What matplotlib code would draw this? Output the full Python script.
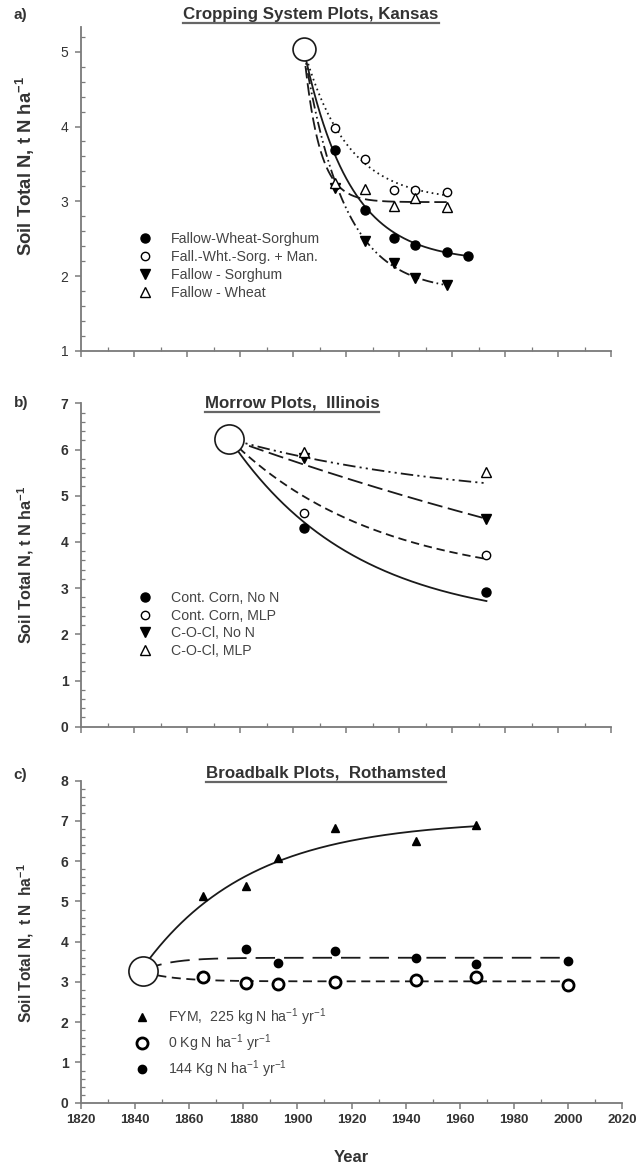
import numpy as np
import matplotlib
matplotlib.use("Agg")
import matplotlib.pyplot as plt
from matplotlib.ticker import MultipleLocator
from matplotlib.lines import Line2D

plt.rcParams['font.family'] = ['Liberation Sans', 'DejaVu Sans']
plt.rcParams['mathtext.fontset'] = 'custom'
plt.rcParams['mathtext.rm'] = 'Liberation Sans'
plt.rcParams['mathtext.it'] = 'Liberation Sans:italic'
plt.rcParams['mathtext.bf'] = 'Liberation Sans:bold'
plt.rcParams['lines.scale_dashes'] = False

# ---------------- data: panel a (Kansas) ----------------
a_start_year = 1904
a_start_n = 5.04
a_fws_years = [1916, 1927, 1938, 1946, 1958, 1966]
a_fws = [3.68, 2.89, 2.51, 2.42, 2.32, 2.27]
a_man_years = [1916, 1927, 1938, 1946, 1958]
a_man = [3.98, 3.56, 3.15, 3.15, 3.12]
a_fs_years = [1916, 1927, 1938, 1946, 1958]
a_fs = [3.18, 2.47, 2.17, 1.97, 1.88]
a_fw_years = [1916, 1927, 1938, 1946, 1958]
a_fw = [3.24, 3.16, 2.94, 3.04, 2.93]
a_labels = ['Fallow-Wheat-Sorghum', 'Fall.-Wht.-Sorg. + Man.', 'Fallow - Sorghum', 'Fallow - Wheat']
# fitted curves: (first year, anchor step, three anchor values, last year)
a_fit_fws = (1904, 31, [5.04, 2.66, 2.27], 1966)
a_fit_man = (1904, 27, [5.04, 3.40, 3.08], 1958)
a_fit_fs = (1904, 27, [5.04, 2.33, 1.88], 1958)
a_fit_fw = (1904, 27, [5.04, 3.01, 2.99], 1958)

# ---------------- data: panel b (Morrow) ----------------
b_start_year = 1876
b_start_n = 6.23
b_years = [1904, 1973]
b_cc_non = [4.31, 2.91]
b_cc_mlp = [4.62, 3.71]
b_coc_non = [5.81, 4.49]
b_coc_mlp = [5.95, 5.52]
b_labels = ['Cont. Corn, No N', 'Cont. Corn, MLP', 'C-O-Cl, No N', 'C-O-Cl, MLP']
b_fit_cc_non = (1876, 48.5, [6.23, 3.65, 2.72], 1973)
b_fit_cc_mlp = (1876, 48.5, [6.23, 4.40, 3.63], 1973)
b_fit_coc_non = (1876, 48.5, [6.23, 5.30, 4.50], 1973)
b_fit_coc_mlp = (1876, 48.5, [6.23, 5.62, 5.27], 1973)

# ---------------- data: panel c (Broadbalk) ----------------
c_start_year = 1843
c_start_n = 3.28
c_fym_years = [1865, 1881, 1893, 1914, 1944, 1966]
c_fym = [5.13, 5.38, 6.09, 6.82, 6.51, 6.89]
c_zero_years = [1865, 1881, 1893, 1914, 1944, 1966, 2000]
c_zero = [3.13, 2.98, 2.94, 3.00, 3.06, 3.13, 2.93]
c_n144_years = [1881, 1893, 1914, 1944, 1966, 2000]
c_n144 = [3.82, 3.47, 3.76, 3.60, 3.44, 3.52]
c_labels = [r'FYM,  225 kg N ha$^{-1}$ yr$^{-1}$', r'0 Kg N ha$^{-1}$ yr$^{-1}$',
            r'144 Kg N ha$^{-1}$ yr$^{-1}$']
c_fit_fym = (1845, 60.5, [3.55, 6.28, 6.87], 1966)
c_fit_n144 = (1843, 27, [3.28, 3.58, 3.60], 2000)
c_fit_zero = (1843, 22, [3.25, 3.05, 3.02], 2000)

x_ticks = list(range(1820, 2021, 20))


def fit_curve(spec):
    t0, dt, (y0, y1, y2), t_end = spec
    r = (y1 - y2) / (y0 - y1)
    k = -np.log(r) / dt
    b = (y0 - y1) / (1 - r)
    a = y0 - b
    t = np.linspace(t0, t_end, 300)
    return t, a + b * np.exp(-k * (t - t0))


W, H = 640, 1166
fig = plt.figure(figsize=(W / 100, H / 100), dpi=100)


def add_ax(left, right, top, bottom):
    return fig.add_axes([left / W, 1 - bottom / H, (right - left) / W, (bottom - top) / H])


ax_a = add_ax(81, 611, 27, 351)
ax_b = add_ax(81, 611, 403.3, 726.7)
ax_c = add_ax(81, 622, 780.7, 1102.7)

SP = '#7a7a7a'
TXT = '#333333'
LC = '#1a1a1a'
LW = 1.3


def style(ax, ylim, bold_ticks, show_x):
    ax.set_xlim(1820, 2020)
    ax.set_ylim(*ylim)
    for s in ['top', 'right']:
        ax.spines[s].set_visible(False)
    for s in ['left', 'bottom']:
        ax.spines[s].set_color(SP)
        ax.spines[s].set_linewidth(1.3)
    ax.set_xticks(x_ticks)
    ax.xaxis.set_minor_locator(MultipleLocator(10))
    ax.yaxis.set_major_locator(MultipleLocator(1))
    ax.yaxis.set_minor_locator(MultipleLocator(0.2))
    ax.tick_params(which='major', direction='out', length=4, width=1.1, color=SP,
                   labelcolor=TXT, labelsize=10, pad=4)
    ax.tick_params(which='minor', direction='in', length=3, width=0.9, color=SP)
    ax.tick_params(axis='y', which='major', pad=5)
    for lab in ax.get_yticklabels():
        lab.set_fontweight('bold' if bold_ticks else 'normal')
    if show_x:
        for lab in ax.get_xticklabels():
            lab.set_fontweight('bold')
            lab.set_fontsize(9.5)
    else:
        ax.tick_params(axis='x', labelbottom=False)


def big_circle(ax, x, y, size):
    ax.plot([x], [y], marker='o', ms=size, mfc='white', mec=LC, mew=1.2,
            linestyle='none', zorder=5, clip_on=False)


def curve(ax, spec, **kw):
    t, y = fit_curve(spec)
    ax.plot(t, y, color=LC, lw=LW, zorder=2, **kw)


# ---------------- panel a ----------------
style(ax_a, (1, 5.33), False, False)
curve(ax_a, a_fit_fws, linestyle='-')
curve(ax_a, a_fit_man, dashes=(1.2, 2.6))
curve(ax_a, a_fit_fs, dashes=(8, 2.5, 1.2, 2.5, 1.2, 2.5))
curve(ax_a, a_fit_fw, dashes=(9, 3.5))
h1, = ax_a.plot(a_fws_years, a_fws, 'o', ms=6.5, color='black', zorder=4)
h2, = ax_a.plot(a_man_years, a_man, 'o', ms=6, mfc='white', mec='black', mew=1.0, zorder=4)
h3, = ax_a.plot(a_fs_years, a_fs, 'v', ms=7, color='black', zorder=4)
h4, = ax_a.plot(a_fw_years, a_fw, '^', ms=7, mfc='white', mec='black', mew=1.0, zorder=4)
big_circle(ax_a, a_start_year, a_start_n, 16.5)
leg = ax_a.legend([h1, h2, h3, h4], a_labels, loc='upper left', bbox_to_anchor=(0.108, 0.366),
                  frameon=False, handlelength=1.0, handletextpad=1.3, labelspacing=0.28,
                  borderpad=0, borderaxespad=0, fontsize=10.2, numpoints=1)
for t in leg.get_texts():
    t.set_color('#444444')

# ---------------- panel b ----------------
style(ax_b, (0, 7), True, False)
curve(ax_b, b_fit_cc_non, linestyle='-')
curve(ax_b, b_fit_cc_mlp, dashes=(6, 3.5))
curve(ax_b, b_fit_coc_non, dashes=(11, 4))
curve(ax_b, b_fit_coc_mlp, dashes=(9, 3, 1.5, 3, 1.5, 3))
g1, = ax_b.plot(b_years, b_cc_non, 'o', ms=6.5, color='black', zorder=4)
g2, = ax_b.plot(b_years, b_cc_mlp, 'o', ms=6, mfc='white', mec='black', mew=1.0, zorder=4)
g3, = ax_b.plot(b_years, b_coc_non, 'v', ms=7, color='black', zorder=4)
g4, = ax_b.plot(b_years, b_coc_mlp, '^', ms=7, mfc='white', mec='black', mew=1.0, zorder=4)
big_circle(ax_b, b_start_year, b_start_n, 21)
leg = ax_b.legend([g1, g2, g3, g4], b_labels, loc='upper left', bbox_to_anchor=(0.108, 0.4187),
                  frameon=False, handlelength=1.0, handletextpad=1.3, labelspacing=0.25,
                  borderpad=0, borderaxespad=0, fontsize=10.2, numpoints=1)
for t in leg.get_texts():
    t.set_color('#444444')

# ---------------- panel c ----------------
style(ax_c, (0, 8), True, True)
curve(ax_c, c_fit_fym, linestyle='-')
curve(ax_c, c_fit_n144, dashes=(14, 6.5))
curve(ax_c, c_fit_zero, dashes=(6.5, 4))
k1, = ax_c.plot(c_fym_years, c_fym, '^', ms=6, color='black', zorder=4)
k2, = ax_c.plot(c_zero_years, c_zero, 'o', ms=8, mfc='white', mec='black', mew=2.0, zorder=4)
k3, = ax_c.plot(c_n144_years, c_n144, 'o', ms=6, color='black', zorder=4)
big_circle(ax_c, c_start_year, c_start_n, 21)
leg = ax_c.legend([k1, k2, k3], c_labels, loc='upper left', bbox_to_anchor=(0.1, 0.300),
                  frameon=False, handlelength=1.0, handletextpad=1.3, labelspacing=0.32,
                  borderpad=0, borderaxespad=0, fontsize=10.2, numpoints=1)
for t in leg.get_texts():
    t.set_color('#444444')

# ---------------- labels ----------------
ylab_a = r'Soil Total N, t N ha$^{\mathbf{-1}}$'
ylab_b = r'Soil Total N, t N ha$^{\mathbf{-1}}$'
ylab_c = r'Soil Total N,  t N  ha$^{\mathbf{-1}}$'
ax_a.set_ylabel(ylab_a, fontsize=13.3, fontweight='bold', color=TXT, va='center')
ax_a.yaxis.set_label_coords(-0.104, 0.571)
ax_b.set_ylabel(ylab_b, fontsize=11.7, fontweight='bold', color=TXT, va='center')
ax_b.yaxis.set_label_coords(-0.104, 0.5)
ax_c.set_ylabel(ylab_c, fontsize=11.2, fontweight='bold', color=TXT, va='center')
ax_c.yaxis.set_label_coords(-0.102, 0.496)
ax_c.set_xlabel('Year', fontsize=12, fontweight='bold', color=TXT, va='center')
ax_c.xaxis.set_label_coords(0.5, -0.169)

titles = []
for (x, y, s) in [(311, 14, 'Cropping System Plots, Kansas'),
                  (292, 403, 'Morrow Plots,  Illinois'),
                  (326, 773, 'Broadbalk Plots,  Rothamsted')]:
    titles.append(fig.text(x / W, 1 - y / H, s, ha='center', va='center', fontsize=12.2,
                           fontweight='bold', color=TXT))

for (x, y, s) in [(20, 15, 'a)'), (21, 403, 'b)'), (20, 775, 'c)')]:
    fig.text(x / W, 1 - y / H, s, ha='center', va='center', fontsize=11,
             fontweight='bold', color=TXT)

fig.canvas.draw()
renderer = fig.canvas.get_renderer()
for t in titles:
    bb = t.get_window_extent(renderer)
    yl = bb.y0 - 1.5
    fig.add_artist(Line2D([bb.x0 / W, bb.x1 / W], [yl / H, yl / H], transform=fig.transFigure,
                          color='#666666', lw=1.6))

fig.savefig('out.png', dpi=100)
